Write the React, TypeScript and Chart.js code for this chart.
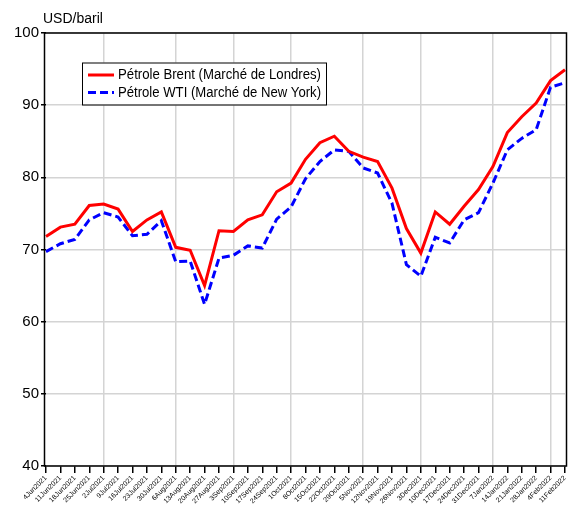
import React, { useEffect, useRef } from "react";
import { Chart, registerables } from "chart.js";

Chart.register(...registerables);

const labels = [
  "4Jun2021", "11Jun2021", "18Jun2021", "25Jun2021", "2Jul2021", "9Jul2021", "16Jul2021", "23Jul2021",
  "30Jul2021", "6Aug2021", "13Aug2021", "20Aug2021", "27Aug2021", "3Sep2021", "10Sep2021", "17Sep2021",
  "24Sep2021", "1Oct2021", "8Oct2021", "15Oct2021", "22Oct2021", "29Oct2021", "5Nov2021", "12Nov2021",
  "19Nov2021", "26Nov2021", "3Dec2021", "10Dec2021", "17Dec2021", "24Dec2021", "31Dec2021", "7Jan2022",
  "14Jan2022", "21Jan2022", "28Jan2022", "4Feb2022", "11Feb2022",
];

const brent = [
  71.8, 73.1, 73.5, 76.1, 76.3, 75.6, 72.5, 74.1, 75.2, 70.3, 69.9, 65.0, 72.6, 72.5, 74.1, 74.8,
  78.0, 79.2, 82.5, 84.8, 85.7, 83.6, 82.8, 82.2, 78.5, 72.9, 69.5, 75.2, 73.5, 76.0, 78.3, 81.5,
  86.2, 88.4, 90.3, 93.4, 94.9,
];

const wti = [
  69.7, 70.8, 71.4, 74.1, 75.1, 74.5, 71.9, 72.1, 74.0, 68.3, 68.4, 62.4, 68.8, 69.2, 70.5, 70.2,
  74.2, 75.9, 79.8, 82.2, 83.8, 83.6, 81.3, 80.6, 76.4, 67.9, 66.3, 71.7, 70.9, 74.1, 75.1, 79.2,
  83.8, 85.4, 86.6, 92.5, 93.1,
];

const yTicks = [40, 50, 60, 70, 80, 90, 100];
const seriesNames = ["Pétrole Brent (Marché de Londres)", "Pétrole WTI (Marché de New York)"];
const unitLabel = "USD/baril";

const FONT = "'Liberation Sans', Arial, sans-serif";

const framePlugin = {
  id: "frameAndLegend",
  afterDraw(chart: any) {
    const { ctx, chartArea } = chart;
    ctx.save();
    // frame
    ctx.strokeStyle = "#000";
    ctx.lineWidth = 1.5;
    ctx.strokeRect(chartArea.left - 1.5, chartArea.top, chartArea.right - chartArea.left + 3, chartArea.bottom - chartArea.top);
    // unit label
    ctx.fillStyle = "#000";
    ctx.font = `14px ${FONT}`;
    ctx.textBaseline = "alphabetic";
    ctx.textAlign = "left";
    ctx.fillText(unitLabel, 43, 23);
    // legend
    const bx = 82, by = 62.5, bw = 244, bh = 42;
    ctx.fillStyle = "#fff";
    ctx.fillRect(bx, by, bw, bh);
    ctx.strokeStyle = "#000";
    ctx.lineWidth = 1;
    ctx.strokeRect(bx + 0.5, by + 0.5, bw, bh);
    const ds = chart.data.datasets;
    const rows = [75, 92.5];
    ds.forEach((d: any, i: number) => {
      const y = rows[i];
      ctx.beginPath();
      ctx.strokeStyle = d.borderColor;
      ctx.lineWidth = 3;
      ctx.setLineDash(d.borderDash || []);
      ctx.moveTo(88, y);
      ctx.lineTo(114, y);
      ctx.stroke();
      ctx.setLineDash([]);
      ctx.fillStyle = "#000";
      ctx.font = `14px ${FONT}`;
      ctx.textBaseline = "middle";
      ctx.fillText(d.label, 118, y + 0.5, 203);
    });
    ctx.restore();
  },
};

export default function App() {
  const ref = useRef<HTMLCanvasElement | null>(null);

  useEffect(() => {
    if (!ref.current) return;
    const chart = new Chart(ref.current, {
      type: "line",
      data: {
        labels,
        datasets: [
          {
            label: seriesNames[0],
            data: brent,
            borderColor: "#ff0000",
            borderWidth: 3,
            pointRadius: 0,
            tension: 0,
            fill: false,
          },
          {
            label: seriesNames[1],
            data: wti,
            borderColor: "#0000ff",
            borderWidth: 3,
            borderDash: [8, 4],
            pointRadius: 0,
            tension: 0,
            fill: false,
          },
        ],
      },
      options: {
        animation: false,
        responsive: false,
        maintainAspectRatio: false,
        layout: { padding: { top: 33, right: 12, left: 0, bottom: 0 } },
        plugins: {
          legend: { display: false },
          tooltip: { enabled: false },
          title: { display: false },
        },
        scales: {
          x: {
            type: "category",
            offset: false,
            border: { display: false },
            grid: {
              color: (c: any) => {
                const l = labels[c.index];
                return l && parseInt(l, 10) <= 7 && c.index > 0 ? "#d4d4d4" : "rgba(0,0,0,0)";
              },
              lineWidth: 1.5,
              tickColor: "#000",
              tickLength: 7,
              drawOnChartArea: true,
            },
            ticks: {
              autoSkip: false,
              maxRotation: 45,
              minRotation: 45,
              padding: 1,
              color: "#000",
              font: { family: FONT, size: 7 },
            },
            afterFit: (s: any) => {
              s.height = 49;
              s.paddingLeft = 0;
              s.paddingRight = 0;
            },
          },
          y: {
            min: 40,
            max: 100,
            border: { display: false },
            afterBuildTicks: (s: any) => {
              s.ticks = yTicks.map((v) => ({ value: v }));
            },
            grid: {
              color: "#d4d4d4",
              lineWidth: 1.5,
              tickColor: "#000",
              tickLength: 5,
            },
            ticks: {
              padding: 2,
              color: "#000",
              font: { family: FONT, size: 15 },
            },
            afterFit: (s: any) => {
              s.width = 46;
            },
          },
        },
      },
      plugins: [framePlugin],
    });
    return () => chart.destroy();
  }, []);

  return (
    <div style={{ position: "fixed", left: 0, top: 0, width: 577, height: 515, background: "#fff" }}>
      <canvas ref={ref} width={577} height={515} style={{ width: 577, height: 515, display: "block" }} />
    </div>
  );
}
